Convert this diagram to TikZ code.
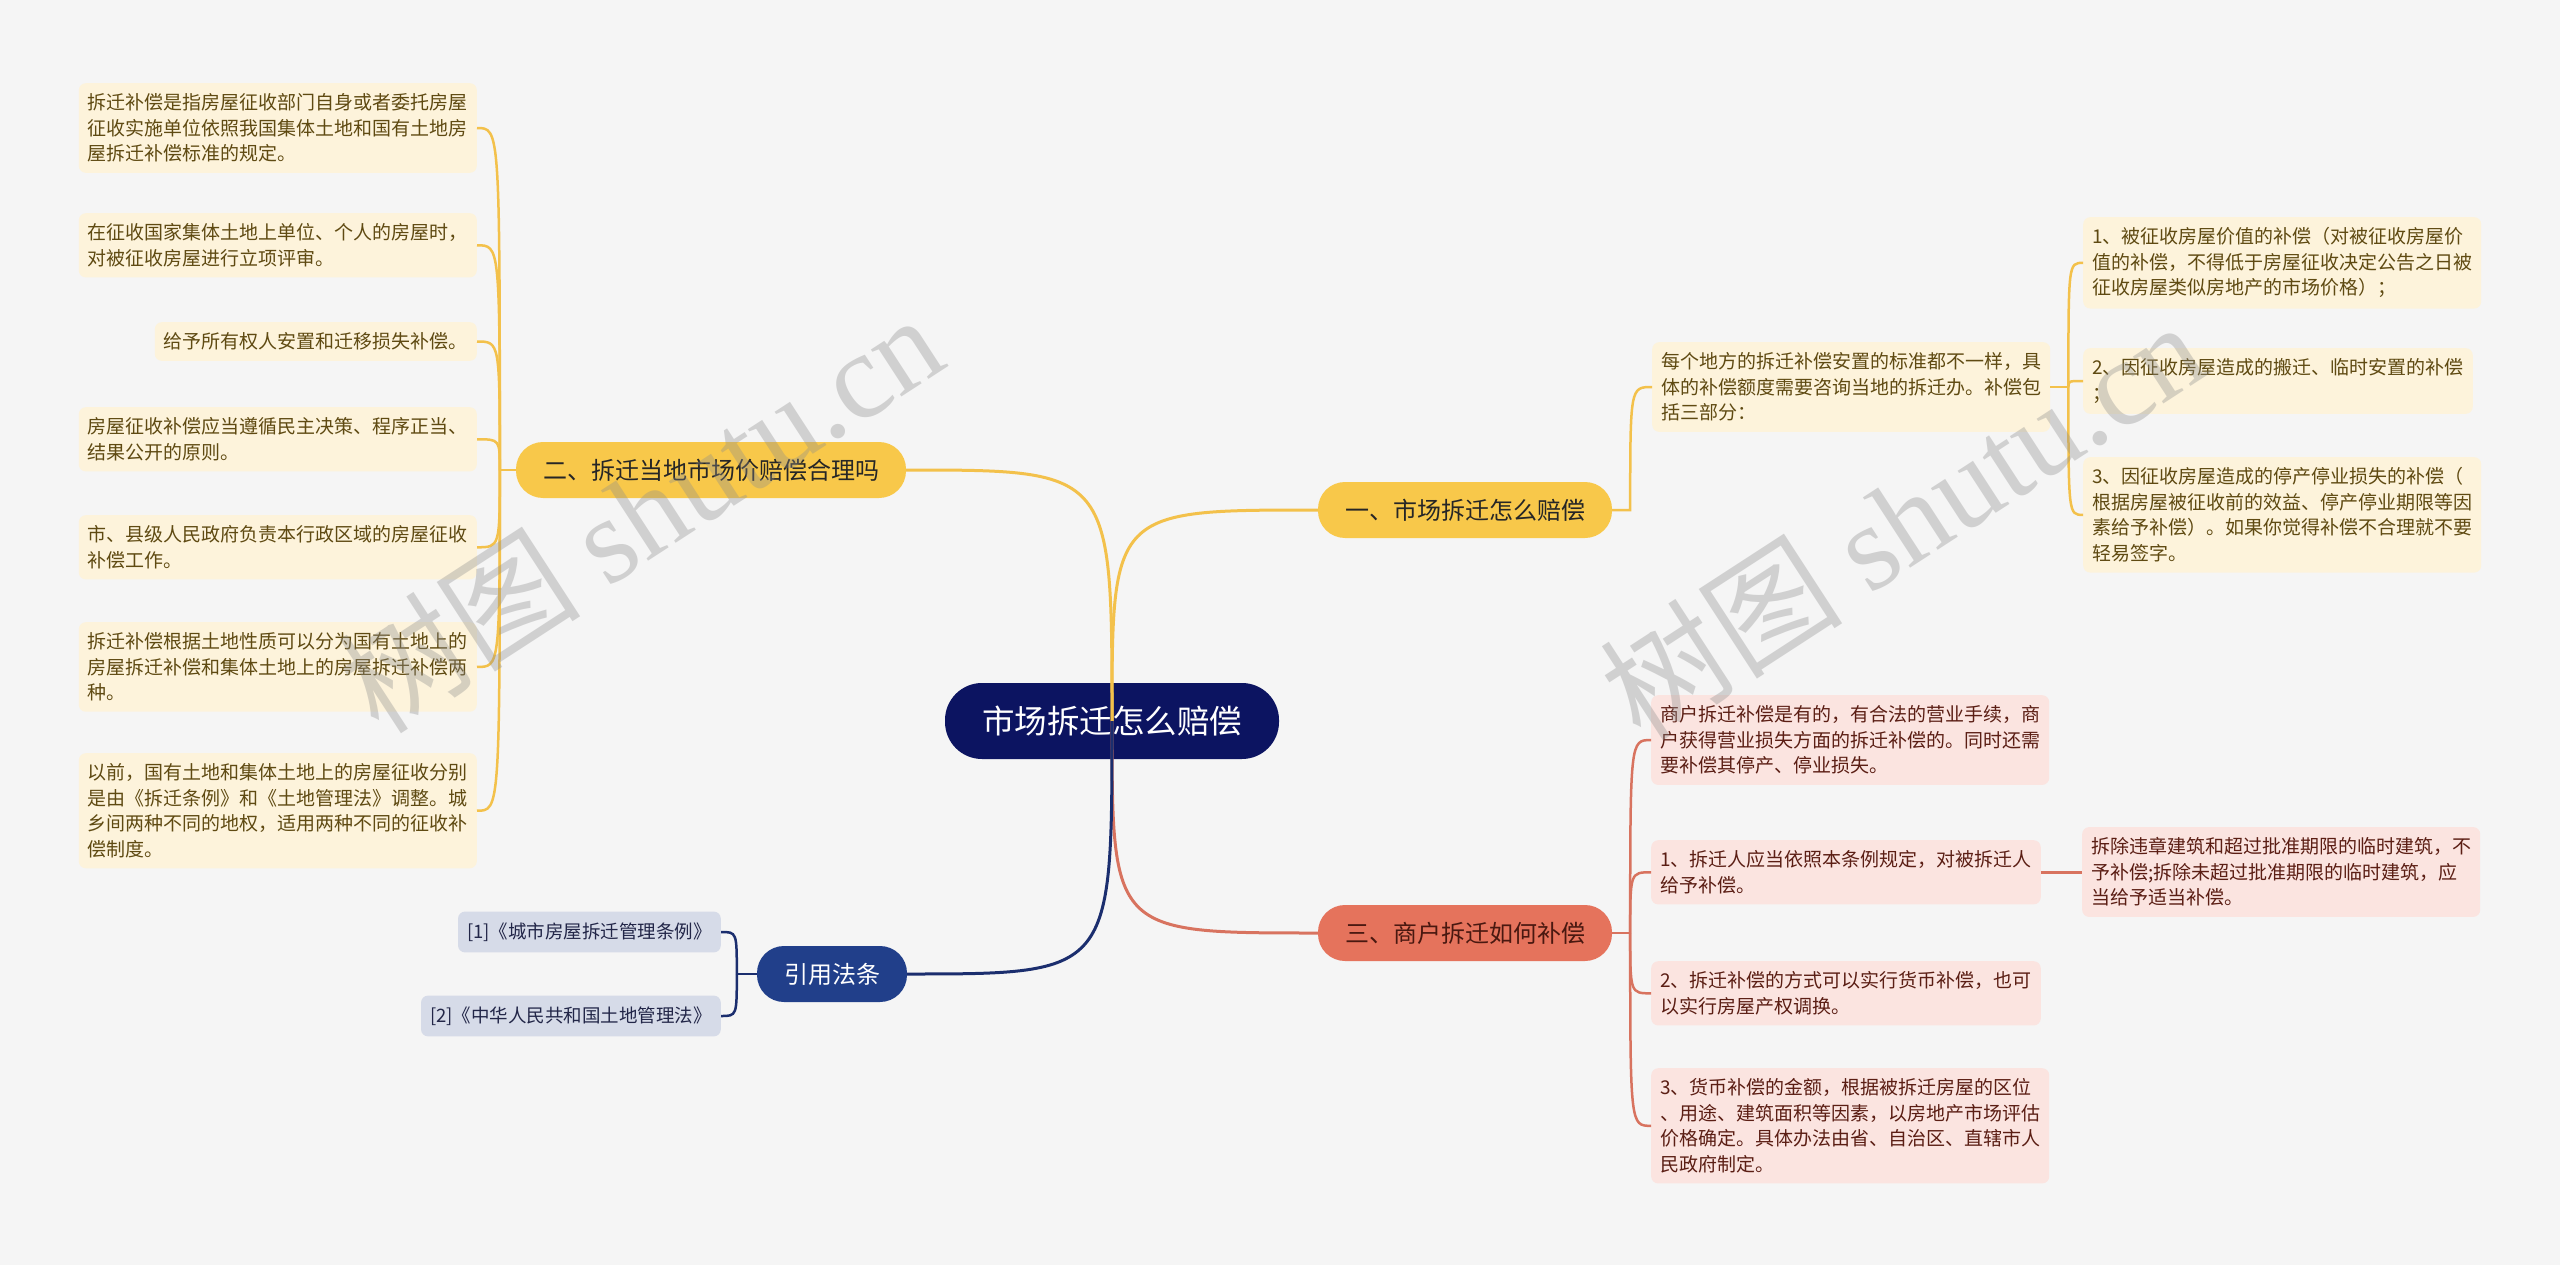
\documentclass[tikz,border=0pt]{standalone}
\usepackage{fontspec}
\setmainfont{Noto Sans CJK SC}
\newfontfamily\wmfont{Liberation Serif}
\usetikzlibrary{positioning}

\definecolor{bg}{HTML}{F5F5F5}
\definecolor{rootc}{HTML}{0C1461}
\definecolor{ypill}{HTML}{F8C84A}
\definecolor{yline}{HTML}{F3C14B}
\definecolor{yfill}{HTML}{FDF3DB}
\definecolor{ytext}{HTML}{5F4A12}
\definecolor{rpill}{HTML}{E5735C}
\definecolor{rline}{HTML}{D8735F}
\definecolor{rfill}{HTML}{FBE4E0}
\definecolor{rtext}{HTML}{5B1E14}
\definecolor{bpill}{HTML}{213F8A}
\definecolor{bline}{HTML}{1B2E6E}
\definecolor{bfill}{HTML}{D6DBE8}
\definecolor{btext}{HTML}{222648}

\begin{document}
\begin{tikzpicture}[x=1pt, y=-1pt,
  pill/.style={rounded corners=27pt, minimum height=56pt, inner xsep=27pt, font=\fontsize{24}{28}\selectfont},
  leaf/.style={rounded corners=7pt, align=left, inner xsep=9pt, inner ysep=10.5pt, font=\fontsize{19}{25.5}\selectfont},
  ly/.style={leaf, fill=yfill, text=ytext},
  lr/.style={leaf, fill=rfill, text=rtext},
  lb/.style={leaf, fill=bfill, text=btext, font=\fontsize{18.5}{22}\selectfont, inner ysep=11pt},
  cy/.style={draw=yline, line width=2.5pt},
  cr/.style={draw=rline, line width=2.5pt},
  cb/.style={draw=bline, line width=2.5pt}]
\fill[bg] (0,0) rectangle (2560,1265);
\useasboundingbox (0,0) rectangle (2560,1265);

% centre and main branches
\node[pill, fill=rootc, text=white, rounded corners=37pt, minimum height=76pt, inner xsep=37pt, font=\fontsize{32.5}{36}\selectfont] (root) at (1112,721) {市场拆迁怎么赔偿};
\node[pill, fill=ypill, text=black!85] (b1) at (1465,510) {一、市场拆迁怎么赔偿};
\node[pill, fill=ypill, text=black!85] (b2) at (711,470) {二、拆迁当地市场价赔偿合理吗};
\node[pill, fill=rpill, text=rtext!80!black] (b3) at (1465,933) {三、商户拆迁如何补偿};
\node[pill, fill=bpill, text=white] (bq) at (832,974) {引用法条};

\draw[cy, line width=3pt] (root.center) .. controls (root.center |- b1.west) .. (b1.west);
\draw[cy, line width=3pt] (root.center) .. controls (root.center |- b2.east) .. (b2.east);
\draw[cr, line width=3pt] (root.center) .. controls (root.center |- b3.west) .. (b3.west);
\draw[cb, line width=3pt] (root.center) .. controls (root.center |- bq.east) .. (bq.east);

% left: 二
\node[ly, anchor=north east] (l1) at (477,83) {拆迁补偿是指房屋征收部门自身或者委托房屋\\征收实施单位依照我国集体土地和国有土地房\\屋拆迁补偿标准的规定。};
\node[ly, anchor=north east] (l2) at (477,213) {在征收国家集体土地上单位、个人的房屋时，\\对被征收房屋进行立项评审。};
\node[ly, anchor=north east] (l3) at (477,322) {给予所有权人安置和迁移损失补偿。};
\node[ly, anchor=north east] (l4) at (477,407) {房屋征收补偿应当遵循民主决策、程序正当、\\结果公开的原则。};
\node[ly, anchor=north east] (l5) at (477,515) {市、县级人民政府负责本行政区域的房屋征收\\补偿工作。};
\node[ly, anchor=north east] (l6) at (477,622) {拆迁补偿根据土地性质可以分为国有土地上的\\房屋拆迁补偿和集体土地上的房屋拆迁补偿两\\种。};
\node[ly, anchor=north east] (l7) at (477,753) {以前，国有土地和集体土地上的房屋征收分别\\是由《拆迁条例》和《土地管理法》调整。城\\乡间两种不同的地权，适用两种不同的征收补\\偿制度。};
\coordinate (t2) at ([xshift=-16pt]b2.west);
\draw[cy] (b2.west) -- (t2);
\foreach \n in {l1,l2,l3,l4,l5,l6,l7}
  \draw[cy] (t2) .. controls (t2 |- \n.east) .. (\n.east);

% right: 一
\node[ly, anchor=north west] (k1) at (1652,342) {每个地方的拆迁补偿安置的标准都不一样，具\\体的补偿额度需要咨询当地的拆迁办。补偿包\\括三部分：};
\coordinate (t1) at ([xshift=18pt]b1.east);
\draw[cy] (b1.east) -- (t1) .. controls (t1 |- k1.west) .. (k1.west);
\node[ly, anchor=north west] (r1) at (2083,217) {1、被征收房屋价值的补偿（对被征收房屋价\\值的补偿，不得低于房屋征收决定公告之日被\\征收房屋类似房地产的市场价格）；};
\node[ly, anchor=north west] (r2) at (2083,348) {2、因征收房屋造成的搬迁、临时安置的补偿\\；};
\node[ly, anchor=north west] (r3) at (2083,457) {3、因征收房屋造成的停产停业损失的补偿（\\根据房屋被征收前的效益、停产停业期限等因\\素给予补偿）。如果你觉得补偿不合理就不要\\轻易签字。};
\coordinate (tk) at ([xshift=18pt]k1.east);
\draw[cy] (k1.east) -- (tk);
\foreach \n in {r1,r2,r3}
  \draw[cy] (tk) .. controls (tk |- \n.west) .. (\n.west);

% right: 三
\node[lr, anchor=north west] (s1) at (1651,695) {商户拆迁补偿是有的，有合法的营业手续，商\\户获得营业损失方面的拆迁补偿的。同时还需\\要补偿其停产、停业损失。};
\node[lr, anchor=north west] (s2) at (1651,840) {1、拆迁人应当依照本条例规定，对被拆迁人\\给予补偿。};
\node[lr, anchor=north west] (s3) at (1651,961) {2、拆迁补偿的方式可以实行货币补偿，也可\\以实行房屋产权调换。};
\node[lr, anchor=north west] (s4) at (1651,1068) {3、货币补偿的金额，根据被拆迁房屋的区位\\、用途、建筑面积等因素，以房地产市场评估\\价格确定。具体办法由省、自治区、直辖市人\\民政府制定。};
\node[lr, anchor=west] (s5) at (2082,872) {拆除违章建筑和超过批准期限的临时建筑，不\\予补偿;拆除未超过批准期限的临时建筑，应\\当给予适当补偿。};
\coordinate (t3) at ([xshift=18pt]b3.east);
\draw[cr] (b3.east) -- (t3);
\foreach \n in {s1,s2,s3,s4}
  \draw[cr] (t3) .. controls (t3 |- \n.west) .. (\n.west);
\draw[cr] (s2.east) -- (s2.east -| s5.west);

% citations
\node[lb, anchor=east] (q1) at (721,932) {[1]《城市房屋拆迁管理条例》};
\node[lb, anchor=east] (q2) at (721,1016) {[2]《中华人民共和国土地管理法》};
\coordinate (tq) at ([xshift=-20pt]bq.west);
\draw[cb] (bq.west) -- (tq);
\foreach \n in {q1,q2}
  \draw[cb] (tq) .. controls (tq |- \n.east) .. (\n.east);

% watermarks
\node[rotate=33, text=black!45, opacity=.35, font=\fontsize{122}{130}\selectfont] (wm1) at (640,512) {树图 {\wmfont shutu.cn}};
\node[rotate=33, text=black!45, opacity=.35, font=\fontsize{122}{130}\selectfont] (wm2) at (1902,519) {树图 {\wmfont shutu.cn}};
\end{tikzpicture}
\end{document}
